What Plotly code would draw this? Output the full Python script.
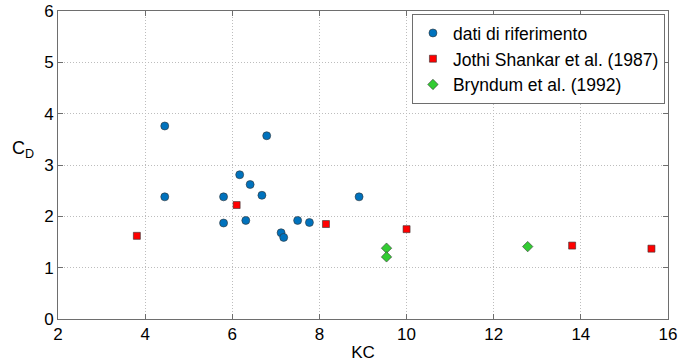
import plotly.graph_objects as go

ref_kc = [4.45, 4.45, 5.80, 5.80, 6.17, 6.41, 6.31, 6.68, 6.79, 7.12, 7.18, 7.50, 7.77, 8.91]
ref_cd = [3.76, 2.38, 2.38, 1.87, 2.81, 2.62, 1.92, 2.41, 3.57, 1.68, 1.59, 1.92, 1.88, 2.38]

js_kc = [3.81, 6.10, 8.15, 10.0, 13.80, 15.62]
js_cd = [1.62, 2.22, 1.85, 1.75, 1.43, 1.37]

br_kc = [9.54, 9.54, 12.78]
br_cd = [1.38, 1.21, 1.41]

x_ticks = [2, 4, 6, 8, 10, 12, 14, 16]
y_ticks = [0, 1, 2, 3, 4, 5, 6]

font_family = "Liberation Sans, Arial, sans-serif"

fig = go.Figure()
fig.add_trace(go.Scatter(x=ref_kc, y=ref_cd, mode="markers", name="dati di riferimento",
                         marker=dict(symbol="circle", size=8, color="#0072BD",
                                     line=dict(color="#333333", width=0.6))))
fig.add_trace(go.Scatter(x=js_kc, y=js_cd, mode="markers", name="Jothi Shankar et al. (1987)",
                         marker=dict(symbol="square", size=7, color="#FF0000",
                                     line=dict(color="#333333", width=0.6))))
fig.add_trace(go.Scatter(x=br_kc, y=br_cd, mode="markers", name="Bryndum et al. (1992)",
                         marker=dict(symbol="diamond", size=8, color="#33CC33",
                                     line=dict(color="#333333", width=0.6))))

axis_common = dict(showline=True, linecolor="#6e6e6e", linewidth=1, mirror="ticks",
                   ticks="inside", ticklen=5, tickcolor="#6e6e6e",
                   showgrid=True, gridcolor="#bdbdbd", griddash="1px,2px", gridwidth=1,
                   zeroline=False, automargin=False,
                   tickfont=dict(size=17, color="#000000", family=font_family))

fig.update_xaxes(range=[2, 16], tickvals=x_ticks, ticktext=[str(v) for v in x_ticks],
                 title=dict(text="KC", font=dict(size=17, color="#000000", family=font_family), standoff=2),
                 **axis_common)
fig.update_yaxes(range=[0, 6], tickvals=y_ticks, ticktext=[str(v) for v in y_ticks],
                 **axis_common)

fig.add_annotation(text="C<sub>D</sub>", xref="paper", yref="paper", x=-0.036, y=0.55,
                   showarrow=False, xanchor="right", yanchor="middle",
                   font=dict(size=18, color="#000000", family=font_family))

fig.update_layout(
    width=692, height=362,
    margin=dict(l=58, r=24, t=11, b=43),
    paper_bgcolor="white", plot_bgcolor="white",
    font=dict(family=font_family, color="#000000"),
    legend=dict(x=0.995, y=0.99, xanchor="right", yanchor="top",
                bgcolor="white", bordercolor="#6e6e6e", borderwidth=1,
                font=dict(size=17.5, color="#000000", family=font_family),
                itemwidth=30, tracegroupgap=0),
    showlegend=True,
)

fig.write_html("out.html", config={"displayModeBar": False},
               post_script="document.body.style.margin='0';")
